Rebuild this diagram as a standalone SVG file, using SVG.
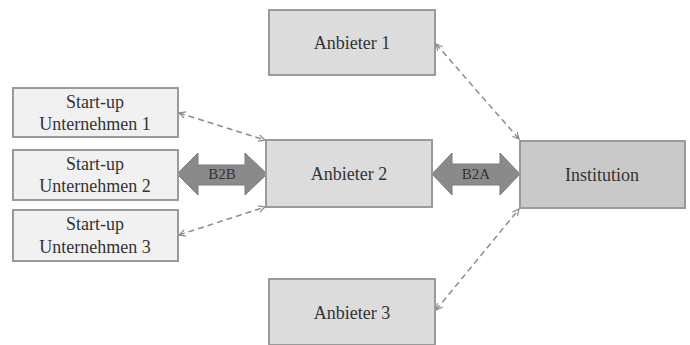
<svg xmlns="http://www.w3.org/2000/svg" width="690" height="345" viewBox="0 0 690 345">
<style>
.box{stroke:#9a9a9a;stroke-width:2}
.a{fill:#dcdcdd}
.s{fill:#f1f1f2}
.i{fill:#c9c9ca}
text{font-family:"Liberation Serif","Times New Roman",serif;font-size:18px;fill:#333;text-anchor:middle}
.dash{stroke:#8c8c8c;stroke-width:1.5;stroke-dasharray:6,4;fill:none;marker-start:url(#oh);marker-end:url(#oh)}
.big{fill:#8a8a8b;stroke:#7a7a7a;stroke-width:1}
.lbl{font-size:15px;fill:#333}
</style>
<defs>
<marker id="oh" viewBox="0 0 10 10" refX="9" refY="5" markerWidth="8" markerHeight="8" orient="auto-start-reverse" markerUnits="userSpaceOnUse">
<path d="M1,1 L9,5 L1,9" fill="none" stroke="#8c8c8c" stroke-width="1.5"/>
</marker>
</defs>
<g id="connectors">
<line class="dash" x1="436" y1="44" x2="519" y2="139"/>
<line class="dash" x1="436" y1="310" x2="519" y2="209"/>
<line class="dash" x1="179" y1="113" x2="265" y2="140"/>
<line class="dash" x1="179" y1="235" x2="265" y2="207"/>
<g id="b2b">
<path class="big" d="M177,174 L198,153 L198,165 L245,165 L245,153 L267,174 L245,195 L245,185 L198,185 L198,195 Z"/>
<text class="lbl" x="222" y="179">B2B</text>
</g>
<g id="b2a">
<path class="big" d="M432,174 L452,153 L452,164 L500,164 L500,153 L520,174 L500,195 L500,185 L452,185 L452,195 Z"/>
<text class="lbl" x="476" y="179">B2A</text>
</g>
</g>
<g id="anbieter1"><rect class="box a" x="269" y="10" width="166" height="65"/><text x="352" y="49">Anbieter 1</text></g>
<g id="anbieter2"><rect class="box a" x="266" y="140" width="166" height="67"/><text x="349" y="180">Anbieter 2</text></g>
<g id="anbieter3"><rect class="box a" x="269" y="279" width="166" height="66"/><text x="352" y="319">Anbieter 3</text></g>
<g id="institution"><rect class="box i" x="520" y="141" width="165" height="67"/><text x="602" y="181">Institution</text></g>
<g id="startup1"><rect class="box s" x="13" y="88" width="165" height="49"/><text x="95" y="108">Start-up</text><text x="95" y="130">Unternehmen 1</text></g>
<g id="startup2"><rect class="box s" x="13" y="150" width="165" height="50"/><text x="95" y="170">Start-up</text><text x="95" y="192">Unternehmen 2</text></g>
<g id="startup3"><rect class="box s" x="13" y="210" width="165" height="51"/><text x="95" y="230">Start-up</text><text x="95" y="253">Unternehmen 3</text></g>
</svg>
